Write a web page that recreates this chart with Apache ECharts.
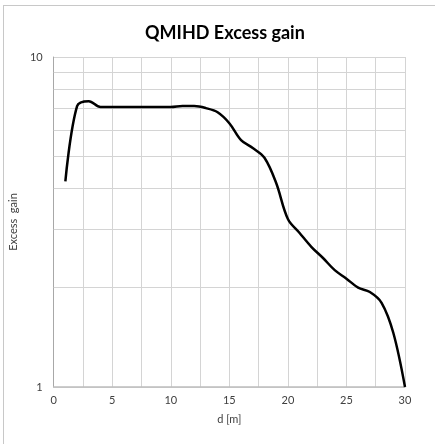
<!DOCTYPE html>
<html>
<head>
<meta charset="utf-8">
<script src="https://cdn.jsdelivr.net/npm/echarts@6/dist/echarts.min.js"></script>
<style>
    body { margin: 0; background: #fff; }
    #frame {
        position: absolute; left: 3px; top: 5px; width: 500px; height: 500px;
        border-left: 1px solid #c8c8c8; border-top: 1px solid #c8c8c8;
    }
    #chart { position: absolute; left: 0; top: 0; width: 435px; height: 444px; }
</style>
</head>
<body>
<div id="frame"></div>
<div id="chart"></div>
<script>
// distance d [m]
const distances = [1, 2, 3, 4, 5, 6, 7, 8, 9, 10, 11, 12, 13, 14, 15, 16, 17, 18, 19, 20, 21, 22, 23, 24, 25, 26, 27, 28, 29, 30]
// excess gain
const excessGain = [4.2, 7.1, 7.35, 7.05, 7.05, 7.05, 7.05, 7.05, 7.05, 7.05, 7.1, 7.1, 7.0, 6.8, 6.3, 5.6, 5.3, 4.95, 4.15, 3.23, 2.93, 2.66, 2.46, 2.26, 2.13, 2.0, 1.94, 1.8, 1.46, 1.0]
// minor log grid lines between 1 and 10
const yMinorTicks = [2, 3, 4, 5, 6, 7, 8, 9]

let myChart = echarts.init(document.getElementById('chart'))
let fontFam = 'Lato, "Open Sans", sans-serif'
let option = {
    animation: false,
    title: {
        text: 'QMIHD Excess gain',
        left: 140,
        top: 19,
        textStyle: { fontFamily: fontFam, fontSize: 18, fontWeight: 'bold', color: '#000' }
    },
    grid: { left: 49, top: 57, width: 356, height: 330 },
    xAxis: {
        type: 'value',
        min: 0,
        max: 30,
        interval: 5,
        name: 'd [m]',
        nameLocation: 'middle',
        nameGap: 27,
        nameTextStyle: { fontFamily: fontFam, fontSize: 11, color: '#404040' },
        axisLine: { show: true, lineStyle: { color: '#bdbdbd', width: 1.5 } },
        axisTick: { show: false },
        axisLabel: { fontFamily: fontFam, fontSize: 11, color: '#404040', margin: 8 },
        splitLine: { show: true, lineStyle: { color: '#d4d4d4', width: 1 } },
        minorTick: { show: false, splitNumber: 2 },
        minorSplitLine: { show: true, lineStyle: { color: '#d4d4d4', width: 1 } }
    },
    yAxis: {
        type: 'log',
        logBase: 10,
        min: 1,
        max: 10,
        name: 'Excess  gain',
        nameLocation: 'middle',
        nameGap: 25,
        nameTextStyle: { fontFamily: fontFam, fontSize: 11, color: '#404040' },
        axisLine: { show: true, lineStyle: { color: '#a8a8a8', width: 1 } },
        axisTick: { show: false },
        axisLabel: { fontFamily: fontFam, fontSize: 11, color: '#404040', margin: 11 },
        splitLine: { show: true, lineStyle: { color: '#d4d4d4', width: 1 } }
    },
    series: [
        {
            type: 'line',
            data: distances.map((d, i) => [d, excessGain[i]]),
            smooth: 0.35,
            showSymbol: false,
            lineStyle: { color: '#000', width: 2.5 },
            markLine: {
                silent: true,
                symbol: 'none',
                label: { show: false },
                lineStyle: { color: '#d4d4d4', width: 1, type: 'solid' },
                data: yMinorTicks.map(v => ({ yAxis: v }))
            },
            z: 5
        }
    ]
}
myChart.setOption(option)
</script>
</body>
</html>
